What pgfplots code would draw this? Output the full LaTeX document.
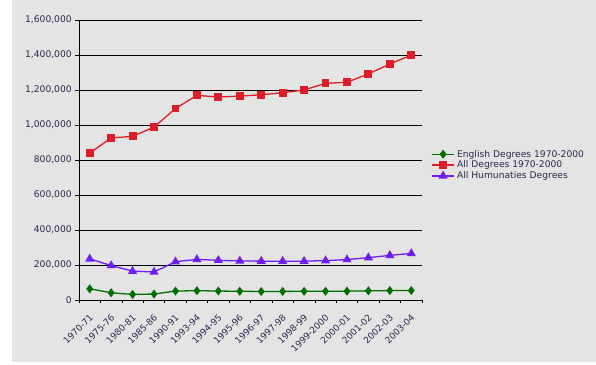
\documentclass[border=0pt]{standalone}
\usepackage{pgfplots}
\pgfplotsset{compat=1.18}
\usepackage{fontspec}
\setmainfont{DejaVu Sans}
\definecolor{bgc}{RGB}{228,228,228}
\definecolor{lblc}{RGB}{40,40,80}
\definecolor{eng}{RGB}{0,110,0}
\definecolor{alld}{RGB}{220,30,40}
\definecolor{hum}{RGB}{110,30,240}
\begin{document}
\fontsize{9.2}{11}\selectfont
\begin{tikzpicture}
\fill[white] (0,0) rectangle (596bp,365bp);
\fill[bgc] (12bp,3bp) rectangle (596bp,365bp);
\begin{axis}[
  at={(79bp,65bp)}, anchor=south west,
  scale only axis, width=343bp, height=280bp,
  xmin=-0.5, xmax=15.5, ymin=0, ymax=1600000,
  axis x line*=bottom, axis y line*=left,
  axis line style={black, line width=0.8pt, -},
  xtick={0,...,15},
  xticklabels={1970-71,1975-76,1980-81,1985-86,1990-91,1993-94,1994-95,1995-96,1996-97,1997-98,1998-99,1999-2000,2000-01,2001-02,2002-03,2003-04},
  x tick label style={rotate=45, anchor=north east, font=\fontsize{9}{10}\selectfont, text=lblc, xshift=-4bp, yshift=-3bp},
  major x tick style={draw=none},
  minor xtick={-0.5,0.5,...,15.5},
  minor x tick style={black, line width=0.6pt},
  minor tick length=3bp,
  ytick={0,200000,...,1600000},
  y tick label style={font=\fontsize{9.2}{10}\selectfont, text=lblc},
  major y tick style={black, line width=0.8pt},
  major tick length=4bp,
  tick align=outside,
  scaled y ticks=false,
  /pgf/number format/.cd, fixed, 1000 sep={,}, assume math mode=true,
  /pgfplots/.cd,
  ymajorgrids, grid style={black, line width=0.8pt},
  legend style={at={(1.023,0.482)}, anchor=west, draw=none, fill=none,
    font=\fontsize{9.2}{10}\selectfont, text=lblc, row sep=-1.5pt, inner xsep=1pt},
  legend cell align=left,
  legend image code/.code={\draw[mark repeat=2,mark phase=2] plot coordinates {(0cm,0cm)(0.4cm,0cm)(0.8cm,0cm)};},
]
\addplot[eng, line width=1.3pt, mark=diamond*, mark size=3.5pt] coordinates {
(0,63914)(1,41452)(2,31922)(3,34083)(4,51064)(5,53179)(6,51170)(7,49928)(8,48641)(9,49016)(10,49800)(11,50106)(12,50569)(13,52375)(14,53699)(15,53984)};
\addlegendentry{English Degrees 1970-2000}
\addplot[alld, line width=1.3pt, mark=square*, mark size=3.3pt] coordinates {
(0,839730)(1,925746)(2,935140)(3,987823)(4,1094538)(5,1169275)(6,1160134)(7,1164792)(8,1172879)(9,1184406)(10,1200303)(11,1237875)(12,1244171)(13,1291900)(14,1348503)(15,1399542)};
\addlegendentry{All Degrees 1970-2000}
\addplot[hum, line width=1.3pt, mark=triangle*, mark size=4pt] coordinates {
(0,235000)(1,197000)(2,165000)(3,160000)(4,219000)(5,232000)(6,227000)(7,223000)(8,222000)(9,222000)(10,222000)(11,225000)(12,231000)(13,242000)(14,255000)(15,266000)};
\addlegendentry{All Humunaties Degrees}
\end{axis}
\end{tikzpicture}
\end{document}
